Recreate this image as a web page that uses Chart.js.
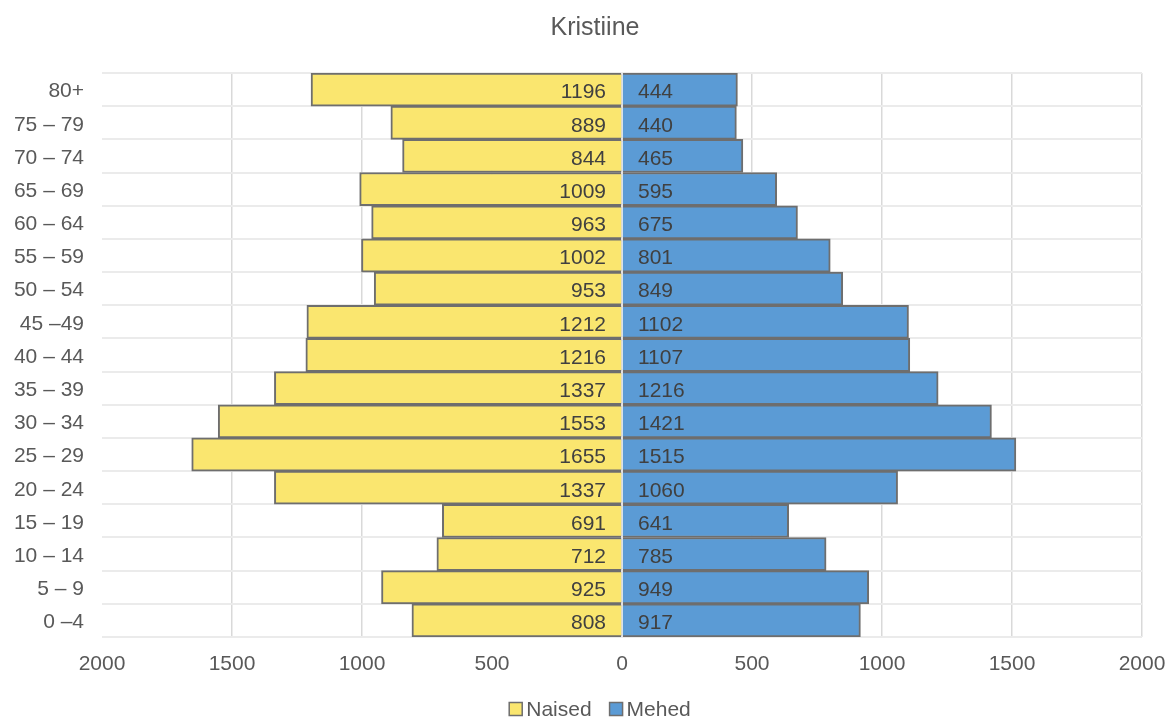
<!DOCTYPE html>
<html>
<head>
<meta charset="utf-8">
<title>Kristiine</title>
<script src="https://cdn.jsdelivr.net/npm/chart.js@4.4.1/dist/chart.umd.min.js"></script>
<style>
  html, body { margin: 0; padding: 0; background: #fff; }
  #wrap { width: 1168px; height: 719px; }
</style>
</head>
<body>
<div id="wrap"><canvas id="pyramid" width="1168" height="719"></canvas></div>
<script>
// vanuserühmad ülalt alla, nagu joonisel
const ageGroups = ['80+', '75 – 79', '70 – 74', '65 – 69', '60 – 64', '55 – 59', '50 – 54', '45 –49',
  '40 – 44', '35 – 39', '30 – 34', '25 – 29', '20 – 24', '15 – 19', '10 – 14', '5 – 9', '0 –4'];
const naised = [1196, 889, 844, 1009, 963, 1002, 953, 1212, 1216, 1337, 1553, 1655, 1337, 691, 712, 925, 808];
const mehed = [444, 440, 465, 595, 675, 801, 849, 1102, 1107, 1216, 1421, 1515, 1060, 641, 785, 949, 917];
const xTicks = [-2000, -1500, -1000, -500, 0, 500, 1000, 1500, 2000];
const chartTitle = 'Kristiine';

const FONT = "'Liberation Sans', Arial, sans-serif";
const TEXT = '#595959';
const YELLOW = '#fae66f';
const BLUE = '#5b9bd5';
const EDGE = '#6e6e6e';

// numbrid tulpade sees, keskjoone kõrval
const barLabels = {
  id: 'barLabels',
  afterDatasetsDraw(chart) {
    const { ctx } = chart;
    const zero = chart.scales.x.getPixelForValue(0);
    ctx.save();
    ctx.font = '21px ' + FONT;
    ctx.fillStyle = '#404040';
    ctx.textBaseline = 'middle';
    chart.data.datasets.forEach((ds, i) => {
      chart.getDatasetMeta(i).data.forEach((bar, j) => {
        const v = Math.abs(ds.data[j]);
        ctx.textAlign = i === 0 ? 'right' : 'left';
        ctx.fillText(v, i === 0 ? zero - 16 : zero + 16, bar.y + 3);
      });
    });
    ctx.restore();
  }
};

// pealkiri ja legend: Exceli paigutus, mitte täpselt graafiku keskel
const titleAndLegend = {
  id: 'titleAndLegend',
  afterDraw(chart) {
    const { ctx } = chart;
    ctx.save();
    ctx.textBaseline = 'middle';

    ctx.font = '25px ' + FONT;
    ctx.fillStyle = TEXT;
    ctx.textAlign = 'center';
    ctx.fillText(chartTitle, 595, 28);

    const y = 709;
    ctx.font = '21px ' + FONT;
    ctx.textAlign = 'left';
    const items = chart.data.datasets.map(ds => ({ text: ds.label, fill: ds.backgroundColor }));
    const box = 13, gap = 4, between = 18;
    const widths = items.map(it => box + gap + ctx.measureText(it.text).width);
    const total = widths.reduce((a, b) => a + b, 0) + between * (items.length - 1);
    let x = 600 - total / 2;
    items.forEach((it, i) => {
      ctx.fillStyle = it.fill;
      ctx.fillRect(x, y - box / 2, box, box);
      ctx.strokeStyle = EDGE;
      ctx.lineWidth = 1.5;
      ctx.strokeRect(x, y - box / 2, box, box);
      ctx.fillStyle = TEXT;
      ctx.fillText(it.text, x + box + gap, y + 1);
      x += widths[i] + between;
    });
    ctx.restore();
  }
};

new Chart(document.getElementById('pyramid'), {
  type: 'bar',
  data: {
    labels: ageGroups,
    datasets: [
      {
        label: 'Naised',
        data: naised.map(v => -v),
        backgroundColor: YELLOW,
        borderColor: EDGE,
        borderWidth: 2,
        barPercentage: 1,
        categoryPercentage: 1
      },
      {
        label: 'Mehed',
        data: mehed,
        backgroundColor: BLUE,
        borderColor: EDGE,
        borderWidth: 2,
        barPercentage: 1,
        categoryPercentage: 1
      }
    ]
  },
  options: {
    indexAxis: 'y',
    responsive: false,
    animation: false,
    layout: { padding: { left: 0, right: 26, top: 73, bottom: 43 } },
    scales: {
      x: {
        stacked: true,
        min: -2000,
        max: 2000,
        afterBuildTicks: axis => { axis.ticks = xTicks.map(v => ({ value: v })); },
        afterFit: axis => {
          axis.height = 39;
          axis.paddingLeft = 0;
          axis.paddingRight = 0;
        },
        ticks: {
          callback: v => Math.abs(v),
          color: TEXT,
          font: { family: FONT, size: 21 },
          padding: 15,
          maxRotation: 0
        },
        grid: {
          color: c => (c.tick && c.tick.value === -2000 ? 'rgba(0,0,0,0)' : '#d9d9d9'),
          lineWidth: 1.5,
          drawTicks: false
        },
        border: { display: false }
      },
      y: {
        stacked: true,
        afterFit: axis => { axis.width = 102; },
        ticks: {
          color: TEXT,
          font: { family: FONT, size: 21 },
          padding: 18,
          labelOffset: 2
        },
        grid: {
          color: '#ebebeb',
          lineWidth: 2,
          drawTicks: false,
          offset: true
        },
        border: { display: false }
      }
    },
    plugins: {
      title: { display: false },
      legend: { display: false },
      tooltip: { enabled: false }
    }
  },
  plugins: [barLabels, titleAndLegend]
});
</script>
</body>
</html>
